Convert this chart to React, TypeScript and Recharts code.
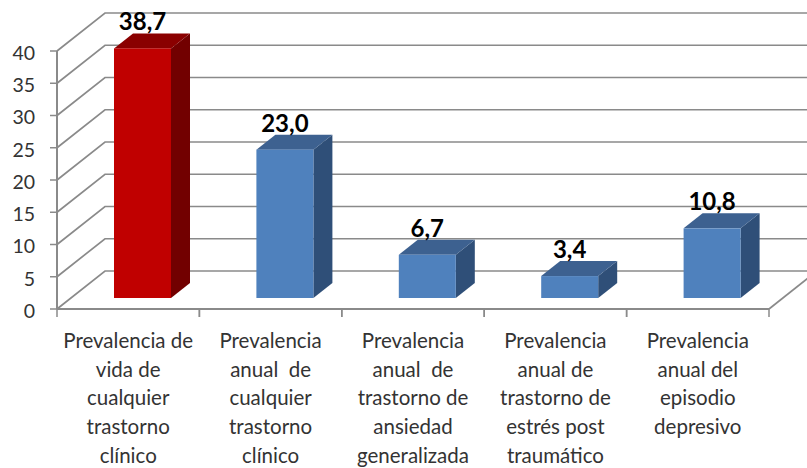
import { BarChart, Bar, XAxis, YAxis, CartesianGrid, LabelList } from "recharts";

const categories = [
  "Prevalencia de\nvida de\ncualquier\ntrastorno\nclínico",
  "Prevalencia\nanual  de\ncualquier\ntrastorno\nclínico",
  "Prevalencia\nanual  de\ntrastorno de\nansiedad\ngeneralizada",
  "Prevalencia\nanual de\ntrastorno de\nestrés post\ntraumático",
  "Prevalencia\nanual del\nepisodio\ndepresivo",
];
const values = [38.7, 23.0, 6.7, 3.4, 10.8];
const yTicks = [0, 5, 10, 15, 20, 25, 30, 35, 40];

const chartData = categories.map((name, i) => ({ name, value: values[i] }));

const FONT = "Lato, Carlito, sans-serif";
const AXIS_GRAY = "#8a8a8a";
const TEXT = "#333333";

// fake 3D: how far the back wall sits from the front plane
const WALL_DX = 48;
const WALL_DY = -38;
// where the bars stand on the floor and how deep they are
const BAR_DX = 14;
const BAR_DY = -11;
const DEPTH_X = 19;
const DEPTH_Y = -15;

const RED = { front: "#c00000", top: "#8a0000", side: "#720000" };
const BLUE = { front: "#4f81bd", top: "#3d6190", side: "#2f4f78" };

function GridLine(props: any) {
  const { x1, x2, y1, index } = props;
  const bx = x1 + WALL_DX;
  const by = y1 + WALL_DY;
  const isFloor = y1 > 300;
  return (
    <g key={index}>
      <polyline
        points={`${x1},${y1} ${bx},${by} ${x2 + WALL_DX},${by}`}
        fill="none"
        stroke={AXIS_GRAY}
        strokeWidth={1.7}
      />
      {isFloor && <line x1={x2} y1={y1} x2={x2 + WALL_DX} y2={by} stroke={AXIS_GRAY} strokeWidth={1.7} />}
    </g>
  );
}

function Bar3D(props: any) {
  const { x, y, width, height, index } = props;
  const c = index === 0 ? RED : BLUE;
  const left = x + BAR_DX;
  const right = left + width;
  const top = y + BAR_DY;
  const bottom = top + height;
  return (
    <g>
      <polygon
        points={`${right},${top} ${right + DEPTH_X},${top + DEPTH_Y} ${right + DEPTH_X},${bottom + DEPTH_Y} ${right},${bottom}`}
        fill={c.side}
      />
      <polygon
        points={`${left},${top} ${left + DEPTH_X},${top + DEPTH_Y} ${right + DEPTH_X},${top + DEPTH_Y} ${right},${top}`}
        fill={c.top}
      />
      <rect x={left} y={top} width={width} height={height} fill={c.front} />
    </g>
  );
}

function BarValue(props: any) {
  const { x, y, width, value } = props;
  return (
    <text
      x={x + BAR_DX + width / 2}
      y={y + BAR_DY - 18}
      textAnchor="middle"
      fontFamily={FONT}
      fontWeight={700}
      fontSize={24}
      fill="#000000"
    >
      {Number(value).toFixed(1).replace(".", ",")}
    </text>
  );
}

function CategoryTick(props: any) {
  const { x, y, payload } = props;
  const half = payload.offset ?? 71;
  const axisY = y - 8; // recharts hands over the label position, not the axis line
  const lines = String(payload.value).split("\n");
  return (
    <g>
      <line x1={x - half} y1={axisY} x2={x - half} y2={axisY + 8} stroke={AXIS_GRAY} strokeWidth={1.5} />
      <line x1={x + half} y1={axisY} x2={x + half} y2={axisY + 8} stroke={AXIS_GRAY} strokeWidth={1.5} />
      <text textAnchor="middle" fontFamily={FONT} fontSize={20.5} fill={TEXT} style={{ whiteSpace: "pre" }}>
        {lines.map((line, i) => (
          <tspan key={i} x={x} y={axisY + 39 + i * 28.7}>
            {line}
          </tspan>
        ))}
      </text>
    </g>
  );
}

export default function App() {
  return (
    <div style={{ position: "absolute", left: 0, top: 0, width: 807, height: 468, overflow: "hidden", background: "#fff" }}>
      <BarChart
        width={807}
        height={468}
        data={chartData}
        margin={{ top: 51, right: 38, bottom: 0, left: 0 }}
        barSize={57}
      >
        <CartesianGrid vertical={false} horizontal={GridLine as any} />
        <XAxis
          dataKey="name"
          height={159}
          interval={0}
          axisLine={{ stroke: AXIS_GRAY, strokeWidth: 2 }}
          tickLine={false}
          tick={CategoryTick as any}
        />
        <YAxis
          width={57}
          domain={[0, 40]}
          ticks={yTicks}
          interval={0}
          axisLine={{ stroke: AXIS_GRAY, strokeWidth: 2 }}
          tickLine={{ stroke: AXIS_GRAY, strokeWidth: 1.5 }}
          tickSize={7}
          tickMargin={15}
          tick={{ fill: TEXT, fontSize: 19.5, fontFamily: FONT, dy: 2 }}
        />
        <Bar dataKey="value" shape={Bar3D as any} isAnimationActive={false}>
          <LabelList dataKey="value" content={BarValue as any} />
        </Bar>
      </BarChart>
    </div>
  );
}
